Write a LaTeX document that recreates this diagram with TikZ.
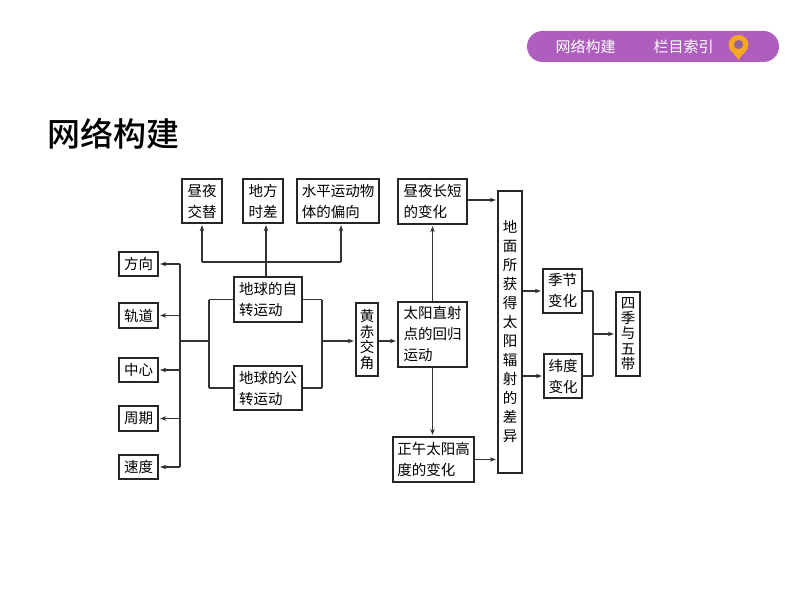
\documentclass[tikz,border=0pt]{standalone}
\usepackage{fontspec}
\setmainfont{Noto Sans CJK SC}
\newfontfamily\titlefont{Noto Sans CJK SC Medium}
\usepackage{tikz}
\usetikzlibrary{arrows.meta}
\definecolor{pillpurple}{HTML}{AE5FBE}
\definecolor{pinorange}{HTML}{F5A623}

\begin{document}
\begin{tikzpicture}[x=1pt,y=-1pt,shorten >=1.5pt,-{Stealth[length=6pt,width=4.5pt]},line width=1.3pt,black!80]
    \tikzstyle{box}=[draw=black!85,fill=white,line width=1.3pt,inner sep=0pt,align=left,text=black,font=\fontsize{14.5}{21}\selectfont]
    \tikzstyle{stack}=[box,align=center,font=\fontsize{14.5}{15.4}\selectfont]
    \tikzstyle{link}=[-,shorten >=0pt]
    \useasboundingbox (0,0) rectangle (794,593);

    % header
    \node[fill=pillpurple,rounded corners=15.5pt,minimum width=252pt,minimum height=31pt,inner sep=0pt] (pill) at (653,46.5){};
    \node[text=white,font=\fontsize{15}{15}\selectfont] (tab-1) at (585.5,46.5){网络构建};
    \node[text=white,font=\fontsize{15}{15}\selectfont] (tab-2) at (683.5,46.5){栏目索引};
    \fill[pinorange,shorten >=0pt] (738.5,60) .. controls (735.5,54) and (728.5,51) .. (728.5,45) .. controls (728.5,39) and (733,35) .. (738.5,35) .. controls (744,35) and (748.5,39) .. (748.5,45) .. controls (748.5,51) and (741.5,54) .. (738.5,60);
    \fill[pillpurple!75!black!85] (738.5,44.5) circle (4.6pt);
    \node[text=black,font=\fontsize{33}{33}\selectfont\titlefont,anchor=west,inner sep=0pt] (title) at (47,134){网络构建};

    % top row
    \node[box,minimum width=40pt,minimum height=44pt] (turn) at (202,201){昼夜\\交替};
    \node[box,minimum width=40pt,minimum height=44pt] (time) at (263,201){地方\\时差};
    \node[box,minimum width=82pt,minimum height=44pt] (bend) at (338,201){水平运动物\\体的偏向};
    \node[box,minimum width=69pt,minimum height=45pt] (len) at (432.5,201.5){昼夜长短\\的变化};

    % left column
    \node[box,minimum width=39pt,minimum height=24pt] (L-0) at (138.5,264){方向};
    \node[box,minimum width=39pt,minimum height=25pt] (L-1) at (138.5,315.5){轨道};
    \node[box,minimum width=39pt,minimum height=24pt] (L-2) at (138.5,370){中心};
    \node[box,minimum width=39pt,minimum height=25pt] (L-3) at (138.5,418.5){周期};
    \node[box,minimum width=39pt,minimum height=24pt] (L-4) at (138.5,467){速度};

    % middle
    \node[box,minimum width=68pt,minimum height=45pt] (rot) at (268,299.5){地球的自\\转运动};
    \node[box,minimum width=68pt,minimum height=44pt] (rev) at (268,388){地球的公\\转运动};
    \node[stack,minimum width=22pt,minimum height=73pt] (tilt) at (367,339.5){黄\\赤\\交\\角};
    \node[box,minimum width=69pt,minimum height=65pt] (sun) at (432.5,334.5){太阳直射\\点的回归\\运动};
    \node[box,minimum width=81pt,minimum height=45pt] (noon) at (433.5,459.5){正午太阳高\\度的变化};

    % right
    \node[box,align=center,font=\fontsize{14.5}{19}\selectfont,minimum width=24pt,minimum height=282pt] (diff) at (510,332){地\\面\\所\\获\\得\\太\\阳\\辐\\射\\的\\差\\异};
    \node[box,minimum width=39pt,minimum height=44pt] (sea) at (562.5,291){季节\\变化};
    \node[box,minimum width=38pt,minimum height=44pt] (lat) at (563,376){纬度\\变化};
    \node[stack,minimum width=24pt,minimum height=84pt] (belt) at (628,334){四\\季\\与\\五\\带};

    % junctions
    \coordinate (J-trunk) at (180,341);
    \coordinate (J-in) at (209,341);
    \coordinate (J-out) at (322,341);
    \coordinate (J-up) at (266,262);
    \coordinate (J-side) at (341,262);
    \coordinate (J-merge) at (593,334);

    % left arrows
    \foreach \n in {0,1,2,3,4}
        \draw (J-trunk |- L-\n.east) -- (L-\n.east);
    \draw[link] (J-trunk |- L-0.east) -- (J-trunk |- L-4.east);
    \draw[link] (J-trunk) -- (J-in);

    % earth motions
    \draw[link] (J-in |- rot.west) -- (rot.west);
    \draw[link] (J-in |- rev.west) -- (rev.west);
    \draw[link] (J-in |- rot.west) -- (J-in |- rev.west);
    \draw[link] (rot.east) -- (J-out |- rot.east);
    \draw[link] (rev.east) -- (J-out |- rev.east);
    \draw[link] (J-out |- rot.east) -- (J-out |- rev.east);
    \draw (J-out) -- (J-out -| tilt.west);
    \draw (tilt.east |- J-out) -- (J-out -| sun.west);

    % up to the top row
    \draw (J-up |- rot.north) -- (J-up |- time.south);
    \draw[link] (turn.south |- J-up) -- (J-side);
    \draw (turn.south |- J-up) -- (turn.south);
    \draw (J-side) -- (J-side |- bend.south);

    % sun
    \draw (sun.north) -- (len.south);
    \draw (sun.south) -- (sun.south |- noon.north);
    \draw ([yshift=1.5pt]len.east) -- ([yshift=1.5pt]len.east -| diff.west);
    \draw (noon.east) -- (noon.east -| diff.west);

    % seasons and belts
    \foreach \to in {sea,lat}
        \draw (diff.east |- \to.west) -- (\to.west);
    \draw[link] (sea.east) -- (J-merge |- sea.east);
    \draw[link] (lat.east) -- (J-merge |- lat.east);
    \draw[link] (J-merge |- sea.east) -- (J-merge |- lat.east);
    \draw (J-merge) -- (belt.west);
\end{tikzpicture}
\end{document}
